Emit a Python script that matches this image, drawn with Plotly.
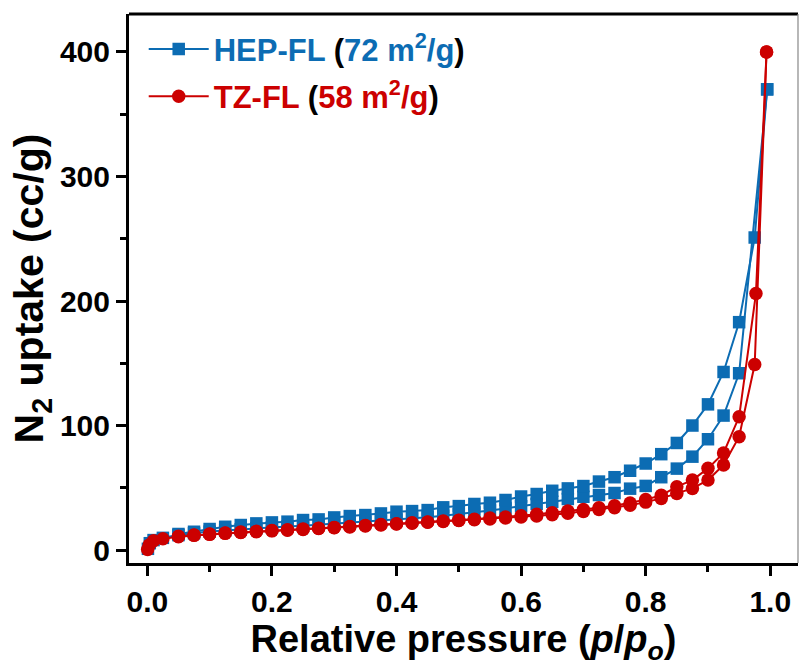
import plotly.graph_objects as go

# ---------------- data ----------------
# HEP-FL adsorption branch
hep_ads_p = [0.001, 0.004, 0.01, 0.025, 0.05, 0.075, 0.1, 0.125, 0.15, 0.175, 0.2, 0.225,
             0.25, 0.275, 0.3, 0.325, 0.35, 0.375, 0.4, 0.425, 0.45, 0.475, 0.5, 0.525,
             0.55, 0.575, 0.6, 0.625, 0.65, 0.675, 0.7, 0.725, 0.75, 0.775, 0.8, 0.825,
             0.85, 0.875, 0.9, 0.925, 0.95, 0.995]
hep_ads_v = [1.0, 5.5, 8.0, 9.8, 12.0, 13.5, 14.8, 15.8, 16.7, 17.5, 18.2, 18.9,
             19.6, 20.4, 21.2, 22.0, 22.8, 23.6, 24.5, 25.4, 26.4, 27.5, 28.8, 30.2,
             31.8, 33.4, 35.2, 37.0, 38.8, 41.0, 42.8, 44.2, 45.8, 49.3, 51.5, 58.5,
             65.4, 75.0, 89.0, 108.0, 142.0, 370.0]
# HEP-FL desorption branch
hep_des_p = [0.995, 0.975, 0.95, 0.925, 0.9, 0.875, 0.85, 0.825, 0.8, 0.775, 0.75, 0.725,
             0.7, 0.675, 0.65, 0.625, 0.6, 0.575, 0.55, 0.525, 0.5, 0.475, 0.45, 0.425,
             0.4, 0.375, 0.35, 0.325, 0.3, 0.275, 0.25, 0.225, 0.2, 0.175, 0.15, 0.125,
             0.1, 0.075, 0.05]
hep_des_v = [370.0, 251.0, 183.0, 143.0, 117.0, 100.0, 86.0, 77.0, 69.5, 63.7, 58.5, 55.0,
             51.4, 49.5, 47.6, 45.0, 43.0, 40.2, 38.0, 37.0, 35.3, 34.3, 32.1, 31.3,
             30.8, 29.4, 28.1, 27.3, 26.2, 24.6, 24.1, 22.8, 22.2, 21.4, 20.1, 18.7,
             16.9, 14.7, 12.9]

# TZ-FL adsorption branch
tz_ads_p = [0.0005, 0.003, 0.01, 0.025, 0.05, 0.075, 0.1, 0.125, 0.15, 0.175, 0.2, 0.225,
            0.25, 0.275, 0.3, 0.325, 0.35, 0.375, 0.4, 0.425, 0.45, 0.475, 0.5, 0.525,
            0.55, 0.575, 0.6, 0.625, 0.65, 0.675, 0.7, 0.725, 0.75, 0.775, 0.8, 0.825,
            0.85, 0.875, 0.9, 0.925, 0.95, 0.975, 0.994]
tz_ads_v = [0.5, 4.0, 7.5, 9.0, 10.7, 11.8, 12.6, 13.4, 14.1, 14.7, 15.4, 16.0,
            16.6, 17.3, 17.9, 18.6, 19.4, 20.2, 20.9, 21.6, 22.3, 23.0, 23.7, 24.3,
            25.0, 25.8, 26.5, 27.3, 28.3, 29.5, 31.0, 32.5, 34.0, 36.0, 38.5, 41.5,
            45.5, 49.5, 56.2, 68.3, 91.0, 149.0, 400.0]
# TZ-FL desorption branch
tz_des_p = [0.994, 0.977, 0.95, 0.925, 0.9, 0.875, 0.85, 0.825, 0.8, 0.775, 0.75, 0.725,
            0.7, 0.675, 0.65, 0.625, 0.6, 0.575, 0.55, 0.525, 0.5, 0.475, 0.45, 0.425,
            0.4, 0.375, 0.35, 0.325, 0.3, 0.275, 0.25, 0.225, 0.2, 0.175, 0.15, 0.125,
            0.1, 0.075, 0.05]
tz_des_v = [400.0, 206.0, 107.0, 78.0, 65.6, 56.2, 50.9, 44.0, 40.5, 37.8, 35.6, 34.0,
            32.6, 31.3, 30.0, 28.8, 27.6, 26.6, 25.7, 24.8, 24.0, 23.3, 22.6, 21.9,
            21.2, 20.5, 19.7, 18.9, 18.2, 17.6, 16.9, 16.3, 15.7, 15.0, 14.4, 13.7,
            12.9, 12.1, 11.0]

x_ticks = [0.0, 0.2, 0.4, 0.6, 0.8, 1.0]
x_ticklabels = ["0.0", "0.2", "0.4", "0.6", "0.8", "1.0"]
y_ticks = [0, 100, 200, 300, 400]
y_ticklabels = ["0", "100", "200", "300", "400"]

BLUE = "#0c6cb3"
RED = "#cc0000"
FONT = "Liberation Sans, Arial, sans-serif"

hep_name = ('<span style="color:%s">HEP-FL</span> (<span style="color:%s">72 m<sup>2</sup>/g</span>)'
            % (BLUE, BLUE))
tz_name = ('<span style="color:%s">TZ-FL</span> (<span style="color:%s">58 m<sup>2</sup>/g</span>)'
           % (RED, RED))

fig = go.Figure()

blue_style = dict(mode="lines+markers", line=dict(color=BLUE, width=2),
                  marker=dict(symbol="square", size=12.5, color=BLUE))
red_style = dict(mode="lines+markers", line=dict(color=RED, width=2),
                 marker=dict(symbol="circle", size=13.5, color=RED))

fig.add_trace(go.Scatter(x=hep_ads_p, y=hep_ads_v, name=hep_name, legendgroup="hep",
                         showlegend=True, **blue_style))
fig.add_trace(go.Scatter(x=hep_des_p, y=hep_des_v, name=hep_name, legendgroup="hep",
                         showlegend=False, **blue_style))
fig.add_trace(go.Scatter(x=tz_ads_p, y=tz_ads_v, name=tz_name, legendgroup="tz",
                         showlegend=True, **red_style))
fig.add_trace(go.Scatter(x=tz_des_p, y=tz_des_v, name=tz_name, legendgroup="tz",
                         showlegend=False, **red_style))

fig.update_layout(
    width=800, height=666,
    margin=dict(l=129, r=2, t=14, b=103, autoexpand=False),
    paper_bgcolor="white", plot_bgcolor="white",
    font=dict(family=FONT, size=30, color="black"),
    showlegend=True,
    legend=dict(x=0.022, y=0.985, xanchor="left", yanchor="top",
                bgcolor="rgba(0,0,0,0)", borderwidth=0,
                font=dict(family=FONT, size=31, color="black", weight="bold"),
                itemwidth=60, tracegroupgap=4),
    shapes=[
        dict(type="line", xref="paper", yref="paper", x0=0, x1=1, y0=1, y1=1,
             line=dict(color="black", width=3)),
        dict(type="line", xref="paper", yref="paper", x0=1, x1=1, y0=0, y1=1,
             line=dict(color="#888888", width=1.2)),
    ],
)

fig.update_xaxes(
    range=[-0.0294, 1.0445], automargin=False,
    tickvals=x_ticks, ticktext=x_ticklabels,
    showgrid=False, zeroline=False,
    showline=True, linecolor="black", linewidth=3,
    ticks="outside", ticklen=10, tickwidth=3, tickcolor="black",
    minor=dict(dtick=0.1, ticks="outside", ticklen=6, tickwidth=2.5, tickcolor="black", showgrid=False),
    tickfont=dict(family=FONT, size=30, color="black", weight="bold"),
    title=dict(text="Relative pressure (<i>p</i>/<i>p</i><sub><i>o</i></sub>)",
               font=dict(family=FONT, size=38, color="black", weight="bold"), standoff=6),
)
fig.update_yaxes(
    range=[-10.4, 430.5], automargin=False,
    tickvals=y_ticks, ticktext=y_ticklabels,
    showgrid=False, zeroline=False,
    showline=True, linecolor="black", linewidth=3,
    ticks="outside", ticklen=10, tickwidth=3, tickcolor="black",
    minor=dict(dtick=50, ticks="outside", ticklen=6, tickwidth=2.5, tickcolor="black", showgrid=False),
    tickfont=dict(family=FONT, size=30, color="black", weight="bold"),
    title=dict(text="N<sub>2</sub> uptake (cc/g)",
               font=dict(family=FONT, size=41, color="black", weight="bold"), standoff=4),
)

fig.write_html("out.html", config={"displayModeBar": False},
               post_script="document.body.style.margin='0px';document.body.style.padding='0px';")
